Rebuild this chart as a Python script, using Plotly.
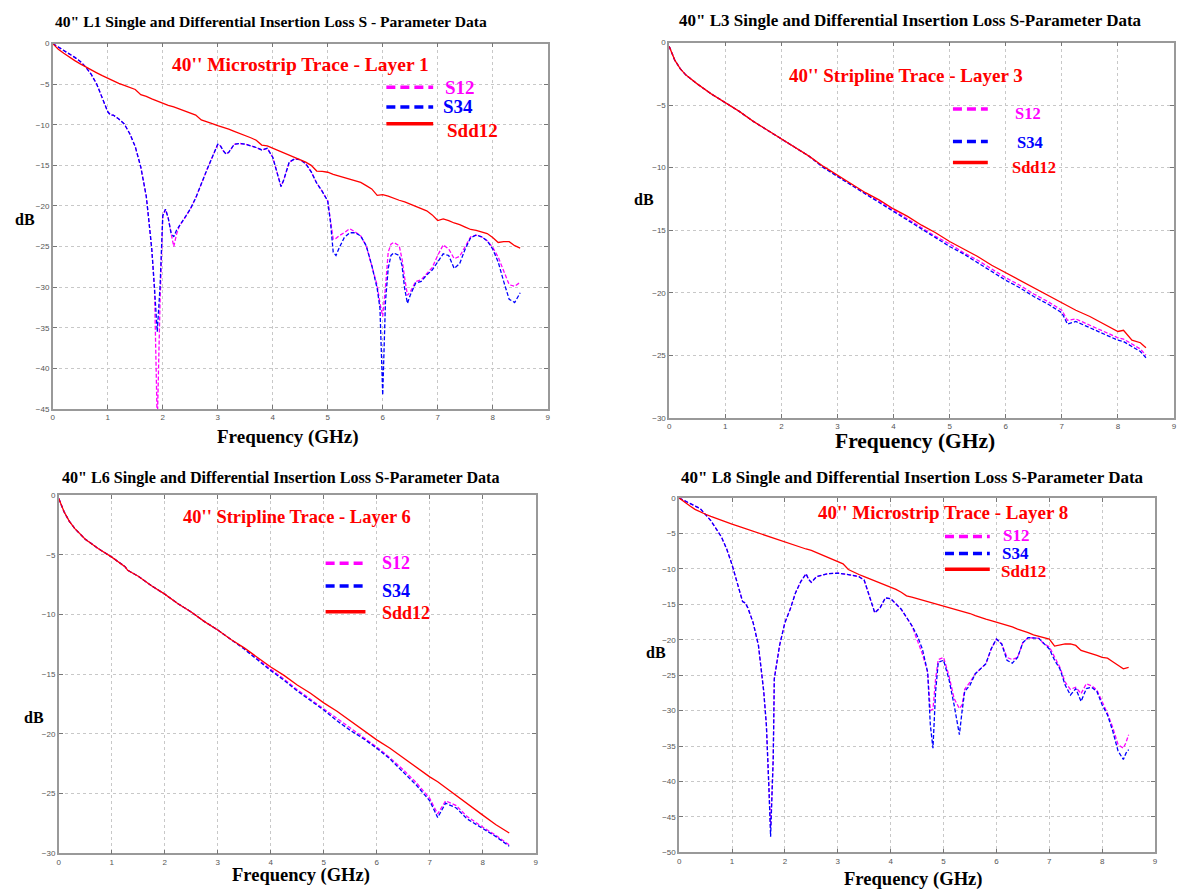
import plotly.graph_objects as go

W, H = 1177, 893

# ---------------- Panel 1 : L1 microstrip ----------------
f1 = [0.0, 0.1, 0.2, 0.3, 0.4, 0.5, 0.6, 0.7, 0.8, 0.9, 1.0, 1.05, 1.1, 1.2, 1.3, 1.4, 1.5, 1.6, 1.7, 1.75,
      1.8, 1.85, 1.9, 1.95, 2.0, 2.05, 2.1, 2.15, 2.2, 2.25, 2.3, 2.4, 2.5, 2.6, 2.7, 2.8, 2.9, 3.0, 3.05, 3.1,
      3.15, 3.2, 3.3, 3.4, 3.5, 3.6, 3.7, 3.8, 3.9, 4.0, 4.1, 4.15, 4.2, 4.3, 4.4, 4.5, 4.6, 4.7, 4.8, 4.9,
      5.0, 5.05, 5.1, 5.15, 5.2, 5.3, 5.4, 5.5, 5.6, 5.7, 5.8, 5.9, 5.95, 6.0, 6.05, 6.1, 6.15, 6.2, 6.3, 6.35,
      6.4, 6.45, 6.5, 6.6, 6.7, 6.8, 6.9, 7.0, 7.1, 7.2, 7.3, 7.4, 7.5, 7.6, 7.7, 7.8, 7.9, 8.0, 8.1, 8.2,
      8.3, 8.4, 8.5]
s34_1 = [0.0, -0.4, -0.8, -1.2, -1.7, -2.2, -2.9, -3.8, -5.0, -6.7, -8.4, -8.8, -8.8, -9.3, -9.9, -11.1, -12.7, -15.2, -18.8, -22.0,
         -25.3, -30.2, -35.5, -30.0, -21.2, -20.4, -21.5, -23.3, -23.8, -23.0, -22.5, -21.5, -20.4, -19.0, -17.2, -15.6, -14.0, -12.4, -12.6, -13.2,
         -13.6, -13.4, -12.4, -12.3, -12.4, -12.6, -12.8, -13.1, -12.9, -14.0, -16.4, -17.6, -16.8, -14.6, -14.2, -14.3, -14.8, -15.8, -17.2, -18.2,
         -19.4, -22.0, -25.7, -26.1, -25.3, -23.9, -23.3, -23.3, -23.7, -24.9, -27.3, -30.2, -32.6, -43.3, -31.8, -27.7, -26.1, -25.8, -26.1, -27.3,
         -30.2, -32.0, -31.0, -29.5, -29.3, -28.5, -27.9, -26.9, -25.9, -26.1, -27.7, -27.1, -25.3, -23.9, -23.6, -23.8, -24.3, -25.3, -26.9, -29.3,
         -31.5, -31.9, -30.7]
s12_1 = [0.0, -0.4, -0.8, -1.2, -1.7, -2.2, -2.9, -3.8, -5.0, -6.7, -8.4, -8.8, -8.8, -9.3, -9.9, -11.1, -12.7, -15.2, -18.8, -22.0,
         -25.3, -30.2, -47.0, -32.0, -21.2, -20.4, -21.5, -23.3, -25.0, -23.5, -22.5, -21.5, -20.4, -19.0, -17.2, -15.6, -14.0, -12.4, -12.6, -13.2,
         -13.6, -13.4, -12.4, -12.3, -12.4, -12.6, -12.8, -13.1, -12.9, -14.0, -16.4, -17.6, -16.8, -14.6, -14.2, -14.3, -14.8, -15.8, -17.2, -18.2,
         -19.4, -21.5, -24.1, -24.0, -23.7, -23.3, -22.8, -23.2, -23.7, -24.9, -27.3, -29.8, -32.0, -33.6, -30.0, -25.7, -24.7, -24.5, -24.9, -26.5,
         -28.9, -31.0, -30.6, -29.3, -29.1, -28.4, -27.6, -26.1, -24.8, -25.3, -26.5, -26.2, -25.0, -23.8, -23.6, -23.8, -24.3, -25.1, -26.3, -28.1,
         -29.7, -29.9, -29.4]
fd1 = [0.0, 0.1, 0.2, 0.3, 0.4, 0.5, 0.6, 0.7, 0.8, 0.9, 1.0, 1.1, 1.2, 1.3, 1.4, 1.5, 1.6, 1.7, 1.8, 1.9,
       2.0, 2.1, 2.2, 2.3, 2.4, 2.5, 2.6, 2.7, 2.8, 2.9, 3.0, 3.1, 3.2, 3.3, 3.4, 3.5, 3.6, 3.7, 3.8, 3.9,
       4.0, 4.1, 4.2, 4.3, 4.4, 4.5, 4.6, 4.7, 4.8, 4.9, 5.0, 5.1, 5.2, 5.3, 5.4, 5.5, 5.6, 5.7, 5.8, 5.9,
       6.0, 6.1, 6.2, 6.3, 6.4, 6.5, 6.6, 6.7, 6.8, 6.9, 7.0, 7.1, 7.2, 7.3, 7.4, 7.5, 7.6, 7.7, 7.8, 7.9,
       8.0, 8.1, 8.2, 8.3, 8.4, 8.5]
sdd_1 = [0.0, -0.7, -1.2, -1.7, -2.1, -2.5, -2.9, -3.3, -3.6, -3.95, -4.3, -4.6, -4.9, -5.15, -5.4, -5.65, -6.3, -6.5, -6.8, -7.1,
         -7.35, -7.6, -7.8, -8.05, -8.3, -8.5, -8.8, -9.4, -9.6, -9.85, -10.1, -10.3, -10.55, -10.8, -11.05, -11.3, -11.6, -11.9, -12.5, -12.6,
         -12.9, -13.1, -13.4, -13.7, -14.0, -14.3, -14.6, -15.0, -15.7, -15.75, -15.85, -16.1, -16.3, -16.55, -16.7, -16.9, -17.1, -17.5, -17.9, -18.7,
         -18.6, -18.8, -19.1, -19.3, -19.5, -19.8, -20.1, -20.3, -20.6, -21.1, -21.8, -21.6, -21.8, -22.1, -22.3, -22.6, -22.9, -23.0, -23.2, -23.4,
         -23.9, -24.5, -24.4, -24.4, -24.9, -25.2]

# ---------------- Panel 2 : L3 stripline ----------------
f3 = [0.0, 0.05, 0.1, 0.2, 0.3, 0.5, 0.75, 1.0, 1.25, 1.5, 1.75, 2.0, 2.25, 2.5, 2.75, 3.0, 3.25, 3.5, 3.75, 4.0,
      4.25, 4.5, 4.75, 5.0, 5.25, 5.5, 5.75, 6.0, 6.25, 6.5, 6.75, 7.0, 7.1, 7.25, 7.5, 7.75, 8.0, 8.1, 8.25, 8.4, 8.5]
sdd_3 = [-0.3, -0.9, -1.4, -2.1, -2.6, -3.3, -4.1, -4.8, -5.5, -6.3, -7.0, -7.7, -8.4, -9.1, -9.9, -10.6, -11.3, -12.0, -12.6, -13.3,
         -13.9, -14.6, -15.2, -15.9, -16.5, -17.1, -17.8, -18.4, -19.0, -19.6, -20.2, -20.8, -21.0, -21.4, -21.9, -22.5, -23.1, -23.0, -23.8, -24.0, -24.4]
s34_3 = [-0.3, -0.9, -1.4, -2.1, -2.6, -3.3, -4.1, -4.8, -5.5, -6.3, -7.0, -7.7, -8.4, -9.1, -10.0, -10.7, -11.4, -12.15, -12.8, -13.5,
         -14.2, -14.9, -15.6, -16.3, -16.9, -17.6, -18.3, -19.0, -19.6, -20.3, -20.9, -21.6, -22.5, -22.3, -22.8, -23.3, -23.8, -23.9, -24.3, -24.7, -25.2]
s12_3 = [-0.3, -0.9, -1.4, -2.1, -2.6, -3.3, -4.1, -4.8, -5.5, -6.3, -7.0, -7.7, -8.4, -9.1, -9.95, -10.65, -11.35, -12.1, -12.7, -13.4,
         -14.1, -14.8, -15.5, -16.1, -16.8, -17.4, -18.1, -18.8, -19.4, -20.1, -20.7, -21.4, -22.2, -22.1, -22.6, -23.1, -23.6, -23.7, -24.1, -24.5, -25.0]

# ---------------- Panel 3 : L6 stripline ----------------
f6 = [0.0, 0.05, 0.1, 0.2, 0.3, 0.5, 0.75, 1.0, 1.25, 1.3, 1.5, 1.75, 2.0, 2.25, 2.5, 2.75, 3.0, 3.25, 3.5, 3.75,
      4.0, 4.25, 4.5, 4.75, 5.0, 5.25, 5.5, 5.75, 6.0, 6.25, 6.5, 6.75, 7.0, 7.15, 7.3, 7.5, 7.7, 8.0, 8.25, 8.5]
sdd_6 = [-0.3, -0.9, -1.4, -2.2, -2.8, -3.7, -4.5, -5.2, -6.0, -6.3, -6.8, -7.6, -8.3, -9.1, -9.8, -10.6, -11.3, -12.1, -12.8, -13.6,
         -14.4, -15.1, -15.9, -16.6, -17.4, -18.1, -18.9, -19.7, -20.5, -21.2, -22.0, -22.8, -23.6, -24.0, -24.5, -25.2, -25.8, -26.8, -27.6, -28.3]
s34_6 = [-0.3, -0.9, -1.4, -2.2, -2.8, -3.7, -4.5, -5.2, -6.0, -6.3, -6.8, -7.6, -8.3, -9.1, -9.8, -10.6, -11.3, -12.1, -12.9, -13.8,
         -14.7, -15.5, -16.4, -17.2, -18.0, -18.9, -19.7, -20.4, -21.2, -22.1, -23.2, -24.3, -25.6, -27.0, -25.8, -26.2, -27.1, -27.9, -28.6, -29.4]
s12_6 = [-0.3, -0.9, -1.4, -2.2, -2.8, -3.7, -4.5, -5.2, -6.0, -6.3, -6.8, -7.6, -8.3, -9.1, -9.8, -10.6, -11.3, -12.1, -12.85, -13.7,
         -14.6, -15.4, -16.3, -17.1, -17.9, -18.7, -19.5, -20.3, -21.1, -22.0, -23.0, -24.1, -25.4, -26.7, -25.6, -26.0, -26.9, -27.8, -28.5, -29.3]

# ---------------- Panel 4 : L8 microstrip ----------------
f8 = [0.0, 0.2, 0.4, 0.6, 0.8, 0.9, 1.0, 1.1, 1.2, 1.25, 1.3, 1.4, 1.5, 1.6, 1.65, 1.7, 1.73, 1.76, 1.78, 1.8,
      1.9, 2.0, 2.1, 2.2, 2.3, 2.4, 2.45, 2.5, 2.6, 2.8, 3.0, 3.2, 3.4, 3.5, 3.6, 3.7, 3.8, 3.9, 4.0, 4.2,
      4.4, 4.5, 4.6, 4.7, 4.75, 4.8, 4.85, 4.9, 5.0, 5.1, 5.2, 5.3, 5.35, 5.4, 5.5, 5.6, 5.7, 5.8, 5.9, 6.0,
      6.1, 6.2, 6.3, 6.4, 6.5, 6.6, 6.8, 6.9, 7.0, 7.1, 7.2, 7.3, 7.4, 7.5, 7.6, 7.7, 7.8, 7.9, 8.0, 8.1,
      8.2, 8.3, 8.4, 8.45, 8.5]
s34_8 = [0.0, -0.7, -1.5, -3.2, -5.5, -7.2, -9.4, -12.0, -14.6, -14.8, -15.5, -17.6, -20.8, -27.3, -32.0, -41.3, -47.8, -41.0, -36.6, -25.5,
         -20.8, -17.6, -15.7, -13.4, -11.8, -10.7, -11.5, -11.9, -11.1, -10.7, -10.6, -10.8, -11.1, -11.6, -13.9, -16.2, -15.5, -14.1, -14.2, -15.7,
         -18.0, -19.4, -21.3, -24.6, -32.0, -35.3, -27.3, -23.2, -22.9, -25.5, -29.2, -33.4, -30.1, -27.3, -26.4, -24.8, -24.1, -23.4, -21.3, -19.9,
         -20.6, -22.9, -23.3, -22.5, -20.4, -19.7, -19.8, -20.6, -21.3, -22.9, -24.1, -26.4, -27.8, -26.9, -28.7, -26.9, -26.7, -27.3, -29.2, -30.6,
         -32.9, -35.7, -36.9, -36.0, -35.5]
s12_8 = [0.0, -0.7, -1.5, -3.2, -5.5, -7.2, -9.4, -12.0, -14.6, -14.8, -15.5, -17.6, -20.8, -27.3, -32.0, -41.3, -46.5, -41.0, -36.6, -25.5,
         -20.8, -17.6, -15.7, -13.4, -11.8, -10.7, -11.5, -11.9, -11.1, -10.7, -10.6, -10.8, -11.1, -11.6, -13.9, -16.2, -15.5, -14.1, -14.2, -15.7,
         -18.0, -20.0, -22.0, -24.6, -30.0, -29.8, -25.5, -22.8, -22.5, -25.0, -28.3, -29.7, -29.2, -27.0, -26.0, -24.8, -24.1, -23.4, -21.3, -19.9,
         -20.6, -22.5, -22.8, -22.5, -20.4, -19.7, -19.8, -20.6, -21.0, -22.5, -23.9, -26.0, -27.0, -26.7, -27.6, -26.2, -26.5, -27.1, -28.8, -30.4,
         -32.4, -34.8, -35.3, -34.5, -33.4]
fd8 = [0.0, 0.1, 0.2, 0.3, 0.4, 0.5, 0.6, 0.7, 0.8, 0.9, 1.0, 1.1, 1.2, 1.3, 1.4, 1.5, 1.6, 1.7, 1.8, 1.9,
       2.0, 2.1, 2.2, 2.3, 2.4, 2.5, 2.6, 2.7, 2.8, 2.9, 3.0, 3.1, 3.2, 3.3, 3.4, 3.5, 3.6, 3.7, 3.8, 3.9,
       4.0, 4.1, 4.2, 4.3, 4.4, 4.5, 4.6, 4.7, 4.8, 4.9, 5.0, 5.1, 5.2, 5.3, 5.4, 5.5, 5.6, 5.7, 5.8, 5.9,
       6.0, 6.1, 6.2, 6.3, 6.4, 6.5, 6.6, 6.7, 6.8, 6.9, 7.0, 7.1, 7.2, 7.3, 7.4, 7.5, 7.6, 7.7, 7.8, 7.9,
       8.0, 8.1, 8.2, 8.3, 8.4, 8.5]
sdd_8 = [0.0, -0.6, -1.1, -1.6, -2.0, -2.3, -2.6, -2.9, -3.2, -3.45, -3.7, -3.95, -4.2, -4.45, -4.75, -5.0, -5.25, -5.5, -5.75, -6.05,
         -6.3, -6.5, -6.75, -6.95, -7.2, -7.4, -7.7, -8.0, -8.3, -8.6, -8.9, -9.3, -10.1, -10.5, -10.8, -11.1, -11.4, -11.7, -11.9, -12.3,
         -12.6, -12.9, -13.3, -13.8, -14.0, -14.2, -14.4, -14.7, -14.9, -15.1, -15.2, -15.4, -15.6, -15.8, -16.0, -16.3, -16.6, -16.9, -17.1, -17.3,
         -17.5, -17.7, -18.0, -18.2, -18.5, -18.7, -19.0, -19.3, -19.5, -19.7, -19.9, -20.9, -20.7, -20.6, -20.6, -20.8, -21.5, -21.7, -22.0, -22.2,
         -22.5, -22.6, -23.1, -23.6, -24.1, -23.9]

# ---------------- Texts ----------------
titles = ['40" L1 Single and Differential Insertion Loss S - Parameter Data',
          '40" L3 Single and Differential Insertion Loss S-Parameter Data',
          '40" L6 Single and Differential Insertion Loss S-Parameter Data',
          '40" L8 Single and Differential Insertion Loss S-Parameter Data']
subtitles = ["40'' Microstrip Trace - Layer 1", "40'' Stripline Trace - Layer 3",
             "40'' Stripline Trace - Layer 6", "40'' Microstrip Trace - Layer 8"]
series_names = ["S12", "S34", "Sdd12"]
x_ticks = [0, 1, 2, 3, 4, 5, 6, 7, 8, 9]

MAG, BLU, RED = "#ff00ff", "#0000ff", "#ff0000"
SERIF = "Liberation Serif, Times New Roman, serif"

def px(x):
    return x / W

def py(y):
    return 1 - y / H

panels = [
    dict(xd=(51, 548), yd=(40, 409), ymin=-45, f=f1, s12=s12_1, s34=s34_1, fd=fd1, sdd=sdd_1,
         title=(270, 18, 15.6), sub=(300, 61, 19.5), xlab=(287, 437, 19), dblab=(23, 218, 16),
         leg=dict(lx=(386, 433), ys=(84, 104, 121), tx=(443, 441, 445), tys=(84, 104, 128), size=19)),
    dict(xd=(670, 1177), yd=(39, 418), ymin=-30, f=f3, s12=s12_3, s34=s34_3, fd=f3, sdd=sdd_3,
         title=(912, 17, 17), sub=(908, 72, 19), xlab=(917, 441, 21.5), dblab=(645, 197, 16),
         leg=dict(lx=(955, 990), ys=(106, 139, 160), tx=(1015, 1017, 1012), tys=(111, 140, 165), size=16.5)),
    dict(xd=(57, 536), yd=(496, 858), ymin=-30, f=f6, s12=s12_6, s34=s34_6, fd=f6, sdd=sdd_6,
         title=(280, 479, 16.1), sub=(296, 518, 18.5), xlab=(300, 880, 18.5), dblab=(32, 721, 16),
         leg=dict(lx=(325, 365), ys=(565, 588, 614), tx=(380, 380, 380), tys=(565, 593, 615), size=18)),
    dict(xd=(680, 1158), yd=(499, 857), ymin=-50, f=f8, s12=s12_8, s34=s34_8, fd=fd8, sdd=sdd_8,
         title=(914, 478, 17), sub=(945, 514, 19), xlab=(915, 884, 18.6), dblab=(657, 655, 16),
         leg=dict(lx=(947, 992), ys=(538, 555, 571), tx=(1003, 1002, 1001), tys=(537, 555, 573), size=17)),
]

fig = go.Figure()
annotations = []
shapes = []

for i, p in enumerate(panels):
    n = "" if i == 0 else str(i + 1)
    xa, ya = "x" + n, "y" + n
    fig.add_trace(go.Scatter(x=p["f"], y=p["s12"], mode="lines", name=series_names[0], xaxis=xa, yaxis=ya,
                             line=dict(color=MAG, width=1.3, dash="4px,2px"), showlegend=False))
    fig.add_trace(go.Scatter(x=p["f"], y=p["s34"], mode="lines", name=series_names[1], xaxis=xa, yaxis=ya,
                             line=dict(color=BLU, width=1.3, dash="4px,2px"), showlegend=False))
    fig.add_trace(go.Scatter(x=p["fd"], y=p["sdd"], mode="lines", name=series_names[2], xaxis=xa, yaxis=ya,
                             line=dict(color=RED, width=1.3), showlegend=False))
    ax = dict(domain=[px(p["xd"][0]), px(p["xd"][1])], range=[0, 9], tickvals=x_ticks,
              ticks="inside", ticklen=4, tickcolor="#777", showline=True, linecolor="#999", linewidth=1.5,
              mirror="ticks", showgrid=True, gridcolor="#c8c8c8", griddash="dot", gridwidth=1,
              zeroline=False, tickfont=dict(family="Arial, Liberation Sans", size=8, color="#555"),
              anchor=ya)
    yticks = list(range(0, p["ymin"] - 1, -5))
    ay = dict(domain=[py(p["yd"][1]), py(p["yd"][0])], range=[p["ymin"], 0], tickvals=yticks,
              ticks="inside", ticklen=4, tickcolor="#777", showline=True, linecolor="#999", linewidth=1.5,
              mirror="ticks", showgrid=True, gridcolor="#c8c8c8", griddash="dot", gridwidth=1,
              zeroline=False, tickfont=dict(family="Arial, Liberation Sans", size=8, color="#555"),
              anchor=xa)
    fig.update_layout(**{"xaxis" + n: ax, "yaxis" + n: ay})

    annotations.append(dict(text="<b>" + titles[i] + "</b>", x=px(p["title"][0]), y=py(p["title"][1]),
                            xref="paper", yref="paper", showarrow=False, xanchor="center", yanchor="middle",
                            font=dict(family=SERIF, size=p["title"][2], color="black")))
    annotations.append(dict(text="<b>" + subtitles[i] + "</b>", x=px(p["sub"][0]), y=py(p["sub"][1]),
                            xref="paper", yref="paper", showarrow=False, xanchor="center", yanchor="middle",
                            font=dict(family=SERIF, size=p["sub"][2], color=RED)))
    annotations.append(dict(text="<b>Frequency (GHz)</b>", x=px(p["xlab"][0]), y=py(p["xlab"][1]),
                            xref="paper", yref="paper", showarrow=False, xanchor="center", yanchor="middle",
                            font=dict(family=SERIF, size=p["xlab"][2], color="black")))
    annotations.append(dict(text="<b>dB</b>", x=px(p["dblab"][0]), y=py(p["dblab"][1]),
                            xref="paper", yref="paper", showarrow=False, xanchor="center", yanchor="middle",
                            font=dict(family=SERIF, size=p["dblab"][2], color="black")))
    lg = p["leg"]
    cols = [MAG, BLU, RED]
    for k in range(3):
        shapes.append(dict(type="line", xref="paper", yref="paper",
                           x0=px(lg["lx"][0]), x1=px(lg["lx"][1]), y0=py(lg["ys"][k]), y1=py(lg["ys"][k]),
                           line=dict(color=cols[k], width=3.5, dash="solid" if k == 2 else "9px,5px")))
        annotations.append(dict(text="<b>" + series_names[k] + "</b>", x=px(lg["tx"][k]), y=py(lg["tys"][k]),
                                xref="paper", yref="paper", showarrow=False, xanchor="left", yanchor="middle",
                                font=dict(family=SERIF, size=lg["size"], color=cols[k])))

fig.update_layout(width=W, height=H, margin=dict(l=0, r=0, t=0, b=0), paper_bgcolor="white",
                  plot_bgcolor="white", annotations=annotations, shapes=shapes, showlegend=False)

fig.write_html("out.html", config={"displayModeBar": False},
               post_script="document.body.style.margin='0';document.body.style.padding='0';"
                           "document.body.style.overflow='hidden';")
